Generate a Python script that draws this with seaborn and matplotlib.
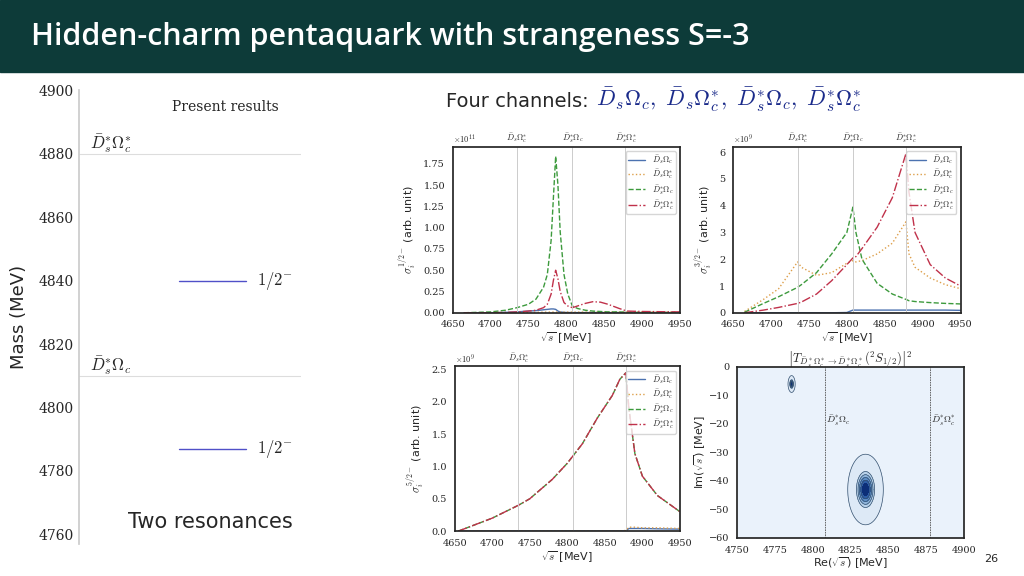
import numpy as np
import matplotlib
matplotlib.use("Agg")
import matplotlib.pyplot as plt
import seaborn as sns

sns.set_theme(style="white")
plt.rcParams['font.family'] = ['DejaVu Sans']
plt.rcParams['mathtext.fontset'] = 'cm'

# ---- data ----
thr_mass = [4880, 4810]
thr_labels = [r'$\bar{D}_s^{*}\Omega_c^{*}$', r'$\bar{D}_s^{*}\Omega_c$']
res_mass = [4840, 4787]
res_labels = [r'$1/2^{-}$', r'$1/2^{-}$']

thresholds = [4735, 4808, 4878]
thr_top = [r'$\bar{D}_s\Omega_c^{*}$', r'$\bar{D}_s^{*}\Omega_c$', r'$\bar{D}_s^{*}\Omega_c^{*}$']
legend_names = [r'$\bar{D}_s\Omega_c$', r'$\bar{D}_s\Omega_c^{*}$', r'$\bar{D}_s^{*}\Omega_c$', r'$\bar{D}_s^{*}\Omega_c^{*}$']

# J=1/2 (x1e11)
e12 = [4665, 4700, 4720, 4735, 4750, 4760, 4770, 4775, 4780, 4783, 4786, 4789, 4792, 4797, 4802, 4808, 4815, 4825, 4835, 4845, 4855, 4870, 4880, 4900, 4950]
s12_DsOc = [0, 0, 0.005, 0.01, 0.02, 0.025, 0.035, 0.04, 0.045, 0.045, 0.04, 0.02, 0.01, 0.005, 0.003, 0.002, 0.002, 0.002, 0.002, 0.002, 0.002, 0.002, 0.002, 0.002, 0.002]
s12_DsOcs = [0, 0, 0, 0.002, 0.005, 0.006, 0.007, 0.008, 0.008, 0.008, 0.008, 0.008, 0.008, 0.008, 0.008, 0.008, 0.008, 0.008, 0.008, 0.008, 0.008, 0.008, 0.008, 0.008, 0.008]
s12_DssOc = [0, 0.01, 0.03, 0.06, 0.10, 0.16, 0.30, 0.45, 0.85, 1.35, 1.84, 1.50, 0.95, 0.45, 0.22, 0.08, 0.05, 0.03, 0.02, 0.015, 0.01, 0.01, 0.005, 0.003, 0.002]
s12_DssOcs = [0, 0, 0.005, 0.01, 0.02, 0.03, 0.06, 0.10, 0.22, 0.38, 0.50, 0.40, 0.25, 0.12, 0.08, 0.06, 0.08, 0.11, 0.13, 0.125, 0.10, 0.05, 0.02, 0.015, 0.01]

# J=3/2 (x1e9)
e32 = [4665, 4690, 4710, 4735, 4740, 4760, 4780, 4800, 4808, 4812, 4820, 4840, 4860, 4878, 4882, 4890, 4910, 4930, 4950]
s32_DsOc = [0, 0, 0, 0, 0, 0, 0, 0.01, 0.1, 0.1, 0.1, 0.1, 0.1, 0.1, 0.1, 0.1, 0.1, 0.1, 0.09]
s32_DsOcs = [0.05, 0.5, 0.9, 1.9, 1.7, 1.4, 1.5, 1.85, 1.95, 1.9, 1.95, 2.2, 2.6, 3.4, 2.2, 1.7, 1.3, 1.05, 0.9]
s32_DssOc = [0.02, 0.35, 0.6, 0.95, 1.05, 1.5, 2.2, 3.0, 3.95, 3.0, 2.0, 1.1, 0.7, 0.5, 0.45, 0.42, 0.38, 0.35, 0.33]
s32_DssOcs = [0, 0.1, 0.2, 0.35, 0.4, 0.7, 1.2, 1.8, 2.05, 2.1, 2.4, 3.2, 4.3, 5.95, 4.5, 3.0, 1.8, 1.3, 1.0]

# J=5/2 (x1e9)
e52 = [4655, 4700, 4735, 4750, 4780, 4800, 4820, 4840, 4860, 4870, 4878, 4882, 4890, 4900, 4920, 4950]
s52_DsOc = [0, 0, 0, 0, 0, 0, 0, 0, 0, 0, 0, 0.04, 0.04, 0.04, 0.035, 0.03]
s52_DsOcs = [0, 0, 0, 0, 0, 0, 0, 0, 0, 0, 0.01, 0.06, 0.06, 0.05, 0.05, 0.04]
s52_DssOc = [0, 0.2, 0.4, 0.5, 0.8, 1.05, 1.35, 1.75, 2.1, 2.35, 2.45, 1.9, 1.2, 0.85, 0.55, 0.3]
s52_DssOcs = [0, 0.2, 0.4, 0.5, 0.8, 1.05, 1.35, 1.75, 2.1, 2.35, 2.45, 1.9, 1.2, 0.85, 0.55, 0.3]

# poles in complex plane: Re, Im, core width (Re, Im)
pole_re = [4786, 4835]
pole_im = [-6, -43]
pole_wre = [0.4, 2.0]
pole_wim = [0.5, 2.1]

colors = ['#4c72b0', '#dd9f4b', '#3d9a3d', '#c0314a']
styles = ['-', ':', '--', '-.']

fig = plt.figure(figsize=(10.24, 5.76), dpi=100)

# title bar
fig.patches.append(plt.Rectangle((0, 0.875), 1, 0.125, transform=fig.transFigure,
                                 color='#0d3b39', zorder=0))
fig.text(0.03, 0.935, 'Hidden-charm pentaquark with strangeness S=-3', color='white',
         fontsize=22, fontweight='semibold', va='center', family=['Open Sans', 'DejaVu Sans'])
fig.text(0.975, 0.025, '26', fontsize=8, ha='right')

# left mass spectrum
ax = fig.add_axes([0.077, 0.056, 0.217, 0.787])
ax.set_ylim(4757, 4900)
ax.set_xlim(0, 1)
for m, lab in zip(thr_mass, thr_labels):
    ax.axhline(m, color='#dddddd', lw=0.8)
    ax.text(0.05, m + 1.5, lab, fontsize=12)
for m, lab in zip(res_mass, res_labels):
    ax.plot([0.45, 0.75], [m, m], color='#5050c8', lw=1)
    ax.text(0.8, m, lab, fontsize=12, va='center')
ax.text(0.42, 4897, 'Present results', fontsize=10, va='top', family='DejaVu Serif')
ax.set_xticks([])
ax.set_yticks([4760, 4780, 4800, 4820, 4840, 4860, 4880, 4900])
ax.tick_params(axis='y', labelsize=10, length=0)
for lbl in ax.get_yticklabels():
    lbl.set_family('DejaVu Serif')
for s in ['top', 'right', 'bottom']:
    ax.spines[s].set_visible(False)
ax.spines['left'].set_color('#cccccc')
ax.set_ylabel('Mass (MeV)', fontsize=13)
ax.yaxis.set_label_coords(-0.23, 0.5)
ax.text(0.22, 4762, 'Two resonances', fontsize=15)

fig.text(0.436, 0.823, 'Four channels:', fontsize=14, va='center')
fig.text(0.582, 0.827, r'$\bar{D}_s\Omega_c,\ \bar{D}_s\Omega_c^{*},\ \bar{D}_s^{*}\Omega_c,\ \bar{D}_s^{*}\Omega_c^{*}$',
         fontsize=16, color='#1a2a8a', va='center')


def cross_panel(rect, e, series, ylim, yticks, exp, ylab, xlim):
    a = fig.add_axes(rect)
    for y, c, ls, nm in zip(series, colors, styles, legend_names):
        sns.lineplot(x=e, y=y, ax=a, color=c, linestyle=ls, lw=1, label=nm)
    for t, tl in zip(thresholds, thr_top):
        a.axvline(t, color='#cccccc', lw=0.7)
        a.text(t, ylim[1] * 1.01, tl, fontsize=6, ha='center', va='bottom')
    a.set_xlim(*xlim)
    a.set_ylim(*ylim)
    a.set_yticks(yticks)
    a.set_xticks([4650, 4700, 4750, 4800, 4850, 4900, 4950])
    a.tick_params(labelsize=7, length=2)
    for lbl in a.get_xticklabels() + a.get_yticklabels():
        lbl.set_family('DejaVu Serif')
    a.text(0.0, 1.01, exp, transform=a.transAxes, fontsize=6, va='bottom')
    a.set_xlabel(r'$\sqrt{s}$ [MeV]', fontsize=8, labelpad=1)
    a.set_ylabel(ylab, fontsize=8)
    a.legend(fontsize=6, loc='upper right', handlelength=2, borderpad=0.3, labelspacing=0.2)
    return a


cross_panel([0.442, 0.457, 0.222, 0.288], e12, [s12_DsOc, s12_DsOcs, s12_DssOc, s12_DssOcs],
            (0, 1.95), [0, 0.25, 0.5, 0.75, 1.0, 1.25, 1.5, 1.75], r'$\times10^{11}$',
            r'$\sigma_i^{1/2-}$ (arb. unit)', (4650, 4950))
cross_panel([0.716, 0.457, 0.222, 0.288], e32, [s32_DsOc, s32_DsOcs, s32_DssOc, s32_DssOcs],
            (0, 6.2), [0, 1, 2, 3, 4, 5, 6], r'$\times10^{9}$',
            r'$\sigma_i^{3/2-}$ (arb. unit)', (4650, 4950))
cross_panel([0.444, 0.078, 0.22, 0.286], e52, [s52_DsOc, s52_DsOcs, s52_DssOc, s52_DssOcs],
            (0, 2.55), [0, 0.5, 1.0, 1.5, 2.0, 2.5], r'$\times10^{9}$',
            r'$\sigma_i^{5/2-}$ (arb. unit)', (4650, 4950))

# complex-plane |T|^2 contour
a = fig.add_axes([0.72, 0.066, 0.221, 0.297])
re = np.linspace(4750, 4900, 400)
im = np.linspace(-60, 0, 300)
R, I = np.meshgrid(re, im)
Z = np.zeros_like(R)
for pr, pi, wr, wi in zip(pole_re, pole_im, pole_wre, pole_wim):
    Z = np.maximum(Z, 1 / (((R - pr) / wr) ** 2 + ((I - pi) / wi) ** 2 + 1))
a.set_facecolor('#eaf2fb')
a.contourf(R, I, Z, levels=[0.028, 0.1, 0.14, 0.2, 0.3, 0.5, 1.01],
           colors=['#dde9f6', '#b9d2ea', '#8fb4da', '#5c8cc4', '#2e5ea6', '#0c2f78'])
a.contour(R, I, Z, levels=[0.028, 0.1, 0.14, 0.2, 0.3], colors='#34506e', linewidths=0.5)
for t, tl in zip(thresholds[1:], thr_top[1:]):
    a.axvline(t, color='#555555', lw=0.6, ls=(0, (2, 1)))
    a.text(t + 0.5, -19, tl, fontsize=7, va='center')
a.set_xlim(4750, 4900)
a.set_ylim(-60, 0)
a.set_xticks([4750, 4775, 4800, 4825, 4850, 4875, 4900])
a.set_yticks([0, -10, -20, -30, -40, -50, -60])
a.tick_params(labelsize=7, length=2)
for lbl in a.get_xticklabels() + a.get_yticklabels():
    lbl.set_family('DejaVu Serif')
a.set_xlabel(r'Re($\sqrt{s}$) [MeV]', fontsize=8, labelpad=1)
a.set_ylabel(r'Im($\sqrt{s}$) [MeV]', fontsize=8, labelpad=1)
a.set_title(r'$\left|T_{\bar{D}_s^*\Omega_c^*\to\bar{D}_s^*\Omega_c^*}(^2S_{1/2})\right|^2$', fontsize=9, pad=3)

fig.savefig('out.png', dpi=100)
